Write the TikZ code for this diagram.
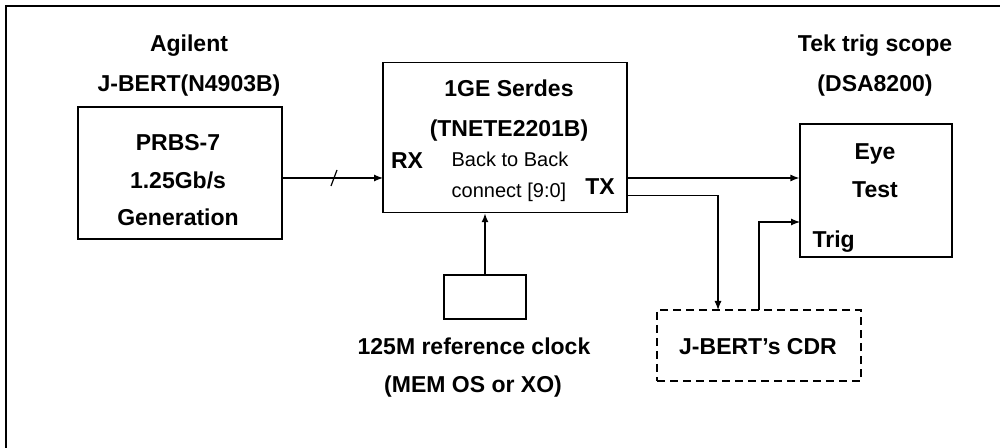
\documentclass[tikz,border=0pt]{standalone}
\usepackage{fontspec}
\setmainfont{Liberation Sans}
\usetikzlibrary{arrows.meta,positioning,calc}
\tikzset{every picture/.style={line width=0.6pt}}
\tikzset{
    blk/.style={draw, inner sep=0pt},
    cdrbox/.style={draw, dashed, dash pattern=on 4pt off 2.5pt, inner sep=0pt},
    lbl/.style={font=\fontsize{11.5}{13}\selectfont\bfseries, inner sep=0pt, text height=8.2pt, text depth=0pt},
    txt/.style={font=\fontsize{10}{12}\selectfont, inner sep=0pt, text height=7.2pt, text depth=0pt},
    sig/.style={-{Latex[length=4.5pt,width=3.5pt]}},
}

\begin{document}
\begin{tikzpicture}[x=0.5pt, y=-0.5pt]
    \useasboundingbox (0,0) rectangle (1000,448);
    \draw[line width=1.1pt] (6,448) -- (6,6) -- (1000,6);

    % blocks
    \node[blk, minimum width=102pt, minimum height=66pt] (prbs) at (180,173) {};
    \node[blk, minimum width=122pt, minimum height=75pt] (serdes) at (505,137.5) {};
    \node[blk, minimum width=41pt, minimum height=22pt] (clk) at (485,297) {};
    \node[blk, minimum width=76pt, minimum height=66.5pt] (eye) at (876,190.5) {};
    \node[cdrbox, minimum width=102pt, minimum height=35.5pt] (cdr) at (759,345.5) {};

    % texts
    \node[lbl] (agilent) at (189,43) {Agilent};
    \node[lbl] (jbert) at (189,83) {J-BERT(N4903B)};
    \node[lbl] (prbs1) at (178,142) {PRBS-7};
    \node[lbl] (prbs2) at (178,180) {1.25Gb/s};
    \node[lbl] (prbs3) at (178,217) {Generation};

    \node[lbl] (ser1) at (509,88) {1GE Serdes};
    \node[lbl] (ser2) at (509,128) {(TNETE2201B)};
    \node[lbl] (rx) at (407,160) {RX};
    \node[txt] (b2b1) at (510,159) {Back to Back};
    \node[txt] (b2b2) at (509,190) {connect [9:0]};
    \node[lbl] (tx) at (600,186) {TX};

    \node[lbl] (clk1) at (474,346) {125M reference clock};
    \node[lbl] (clk2) at (473,384) {(MEM OS or XO)};

    \node[lbl] (tek1) at (875,43) {Tek trig scope};
    \node[lbl] (tek2) at (875,83) {(DSA8200)};
    \node[lbl] (eye1) at (875,151) {Eye};
    \node[lbl] (eye2) at (875,189) {Test};
    \node[lbl, anchor=west] (trig) at (812,239) {Trig};

    \node[lbl] (cdrtxt) at (758,346) {J-BERT's CDR};

    % connections
    \coordinate (rxin) at (383,178);
    \coordinate (txa) at (627,178);
    \coordinate (txb) at (627,195.5);
    \coordinate (trigin) at (800,222);
    \draw[sig] (prbs.east |- rxin) -- (rxin);
    \draw (331,186) -- (337,170);
    \draw[sig, line width=1.2pt] (clk.north) -- (clk.north |- serdes.south);
    \draw[sig] (txa) -- (eye.west |- txa);
    \draw[sig] (txb) -| (718,310) coordinate (cdrin);
    \draw[sig] (759,310) |- (trigin);
\end{tikzpicture}
\end{document}
